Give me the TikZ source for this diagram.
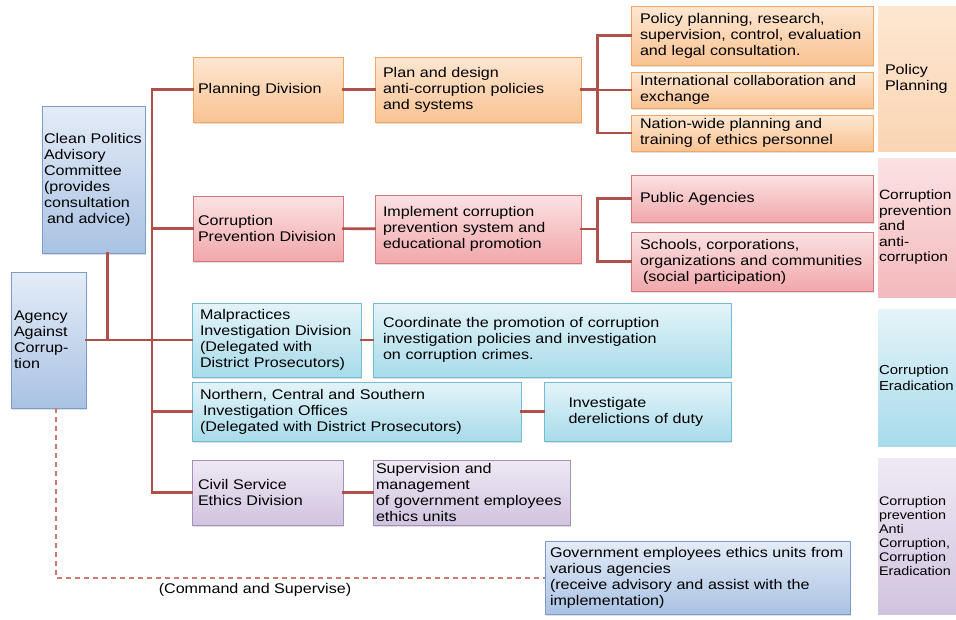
\documentclass[tikz,border=0pt]{standalone}
\usepackage{fontspec}
\setmainfont{Liberation Sans}[FakeStretch=1.15]
\usepackage{tikz}
\usetikzlibrary{positioning,shadows}

\definecolor{linkred}{HTML}{B0504A}
\definecolor{dashred}{HTML}{CC7A6E}
\definecolor{orangeline}{HTML}{F3A862}
\definecolor{orangetop}{HTML}{FDE7D2}
\definecolor{orangebot}{HTML}{F9C392}
\definecolor{pinkline}{HTML}{D8777A}
\definecolor{pinktop}{HTML}{FBE2E3}
\definecolor{pinkbot}{HTML}{F1A7AB}
\definecolor{cyanline}{HTML}{72BDD4}
\definecolor{cyantop}{HTML}{E4F4F9}
\definecolor{cyanbot}{HTML}{A8DBEA}
\definecolor{purpleline}{HTML}{A58FBE}
\definecolor{purpletop}{HTML}{EFE9F4}
\definecolor{purplebot}{HTML}{D0C3DF}
\definecolor{blueline}{HTML}{7C9DCA}
\definecolor{bluetop}{HTML}{E4ECF7}
\definecolor{bluebot}{HTML}{A9C2E3}

\begin{document}
\begin{tikzpicture}[x=1pt,y=-1pt,
	font=\fontsize{14}{16}\selectfont,
	box/.style={draw, line width=0.8pt, align=left, inner ysep=2pt, text=black,
		drop shadow={opacity=0.25, shadow xshift=1pt, shadow yshift=-1.5pt}},
	orangebox/.style={box, draw=orangeline, top color=orangetop, bottom color=orangebot},
	pinkbox/.style={box, draw=pinkline, top color=pinktop, bottom color=pinkbot},
	cyanbox/.style={box, draw=cyanline, top color=cyantop, bottom color=cyanbot},
	purplebox/.style={box, draw=purpleline, top color=purpletop, bottom color=purplebot},
	bluebox/.style={box, draw=blueline, top color=bluetop, bottom color=bluebot},
	side/.style={align=left, inner xsep=1pt, text width=76pt, text=black},
	link/.style={draw=linkred, line width=2.6pt, line cap=rect},
	dashlink/.style={draw=dashred, line width=2pt, dash pattern=on 5pt off 4pt}]
	\useasboundingbox (0,0) rectangle (956,619);
	\begin{scope}
	\clip (0,0) rectangle (956,619);
	\node[bluebox, inner xsep=2pt, text width=99pt, minimum height=147pt] (clean) at (93.5,179.5) {Clean Politics\\Advisory\\Committee\\(provides\\consultation\\\hspace*{3pt}and advice)};
	\node[bluebox, inner xsep=3pt, text width=69pt, minimum height=136pt] (agency) at (48.5,340) {Agency\\Against\\Corrup-\\tion};
	\node[orangebox, inner xsep=5pt, text width=140pt, minimum height=65pt] (plandiv) at (268,89.5) {Planning Division};
	\node[orangebox, inner xsep=8pt, text width=190pt, minimum height=65pt] (plandesign) at (478,89.5) {Plan and design\\anti-corruption policies\\and systems};
	\node[orangebox, inner xsep=9pt, text width=224pt, minimum height=59pt] (pol1) at (752,35.5) {Policy planning, research,\\supervision, control, evaluation\\and legal consultation.};
	\node[orangebox, inner xsep=9pt, text width=224pt, minimum height=36pt] (pol2) at (752,90) {International collaboration and\\exchange};
	\node[orangebox, inner xsep=9pt, text width=224pt, minimum height=36pt] (pol3) at (752,133) {Nation-wide planning and\\training of ethics personnel};
	\node[side, inner xsep=7pt, text width=64pt, minimum height=145pt, top color=orangetop, bottom color=orangebot!70] (sidepol) at (917,78.5) {Policy\\Planning};
	\node[pinkbox, inner xsep=5pt, text width=140pt, minimum height=65pt] (prevdiv) at (268,228.5) {Corruption\\Prevention Division};
	\node[pinkbox, inner xsep=8pt, text width=190pt, minimum height=68pt] (implement) at (478,229) {Implement corruption\\prevention system and\\educational promotion};
	\node[pinkbox, inner xsep=9pt, text width=224pt, minimum height=47pt] (public) at (752,198.5) {Public Agencies};
	\node[pinkbox, inner xsep=9pt, text width=224pt, minimum height=59pt] (schools) at (752,261.5) {Schools, corporations,\\organizations and communities\\\hspace*{3pt}(social participation)};
	\node[side, font=\fontsize{13.5}{15.5}\selectfont, minimum height=139pt, top color=pinktop, bottom color=pinkbot!80] (sideprev) at (917,227.5) {Corruption\\prevention\\and\\anti-\\corruption};
	\node[cyanbox, inner xsep=8pt, text width=153pt, minimum height=74pt] (malpr) at (276.5,340) {Malpractices\\Investigation Division\\(Delegated with\\District Prosecutors)};
	\node[cyanbox, inner xsep=10pt, text width=338pt, minimum height=74pt] (coord) at (552,340) {Coordinate the promotion of corruption\\investigation policies and investigation\\on corruption crimes.};
	\node[cyanbox, inner xsep=8pt, text width=313pt, minimum height=59pt] (northern) at (356.5,411.5) {Northern, Central and Southern\\\hspace*{3pt}Investigation Offices\\(Delegated with District Prosecutors)};
	\node[cyanbox, inner xsep=0pt, text width=138pt, minimum width=187pt, minimum height=59pt] (investigate) at (637.5,411.5) {Investigate\\derelictions of duty};
	\node[side, font=\fontsize{13}{16}\selectfont, minimum height=137pt, top color=cyantop, bottom color=cyanbot] (sideerad) at (917,377.5) {Corruption\\Eradication};
	\node[purplebox, inner xsep=6pt, text width=139pt, minimum height=65pt] (civil) at (267.5,492.5) {Civil Service\\Ethics Division};
	\node[purplebox, inner xsep=3pt, text width=191pt, inner ysep=0pt, minimum height=65pt] (supervision) at (471.5,492.5) {Supervision and\\management\\of government employees\\ethics units};
	\node[side, font=\fontsize{12.5}{14}\selectfont, minimum height=156pt, top color=purpletop, bottom color=purplebot] (sidecivil) at (917,536) {Corruption\\prevention\\Anti\\Corruption,\\Corruption\\Eradication};
	\node[bluebox, inner xsep=5pt, text width=295pt, minimum height=73pt] (govunits) at (697.5,577.5) {Government employees ethics units from\\various agencies\\(receive advisory and assist with the\\implementation)};
	\end{scope}
	\coordinate (ttop) at (152,89.5);
	\coordinate (tbot) at (152,492.5);
	\draw[link] (ttop) -- (tbot);
	\foreach \n in {plandiv,prevdiv,malpr,northern,civil}
		\draw[link] (\n.west -| ttop) -- (\n.west);
	\draw[link] (agency) -- (malpr);
	\draw[link] ([xshift=14pt]clean.south) -- ([xshift=14pt]clean.south |- agency.east);
	\draw[link] (plandiv) -- (plandesign);
	\draw[link] (prevdiv) -- (implement);
	\draw[link] (malpr) -- (coord);
	\draw[link] (northern) -- (investigate);
	\draw[link] (civil) -- (supervision);
	\path (plandesign.east) ++(16,0) coordinate (pbr);
	\draw[link] (plandesign.east) -- (pbr);
	\draw[link] (pol1.west) -| (pbr) |- (pol3.west);
	\draw[link] (pol2.west) -- (pol2.west -| pbr);
	\path (implement.east) ++(16,0) coordinate (ibr);
	\draw[link] (implement.east) -- (ibr);
	\draw[link] (public.west) -| (ibr) |- (schools.west);
	\draw[dashlink] ([xshift=7pt]agency.south) |- (govunits.west);
	\node[text=black] (cmdlabel) at (255,590) {(Command and Supervise)};
\end{tikzpicture}
\end{document}
